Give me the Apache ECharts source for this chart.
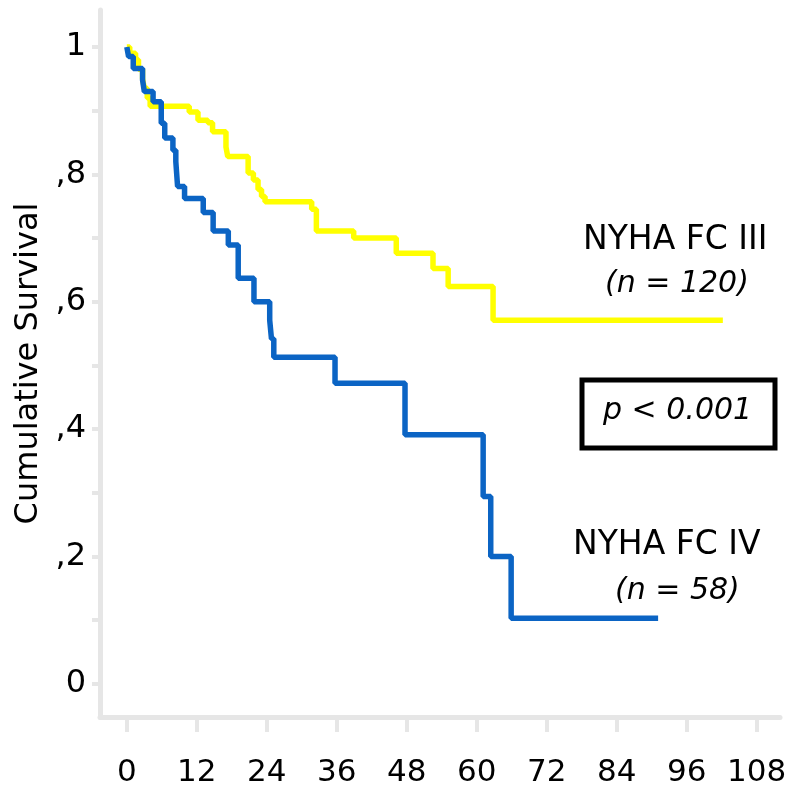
<!DOCTYPE html>
<html>
<head>
<meta charset="utf-8">
<script src="https://cdn.jsdelivr.net/npm/echarts@6/dist/echarts.min.js"></script>
<style>
    html, body { margin: 0; padding: 0; background: #fff; }
    .km { width: 805px; height: 789px; }
</style>
</head>
<body>
<div class="km"></div>
<script>
// months and cumulative survival (value after each step)
var fc3Months = [0, 0.5, 1.5, 2, 2.7, 3, 3.5, 4, 10.7, 12.2, 13.9, 14.7, 17, 17.3, 20.8, 21.7, 22.5, 23.1, 23.7, 31.7, 32.5, 38.9, 46.2, 52.5, 55.1, 62.8, 102.2];
var fc3Surv = [1, 0.99, 0.98, 0.965, 0.95, 0.935, 0.92, 0.907, 0.898, 0.885, 0.881, 0.867, 0.843, 0.828, 0.802, 0.791, 0.776, 0.765, 0.757, 0.745, 0.711, 0.70, 0.676, 0.652, 0.624, 0.571, 0.571];

var fc4Months = [0, 0.3, 1.1, 2.7, 3.0, 4.5, 5.9, 6.5, 7.9, 8.4, 8.7, 9.9, 13.1, 14.8, 17.4, 19.1, 21.8, 24.5, 24.8, 25.2, 35.7, 47.7, 61.1, 62.4, 65.9, 91.1];
var fc4Surv = [1, 0.985, 0.966, 0.948, 0.930, 0.914, 0.880, 0.857, 0.838, 0.820, 0.781, 0.762, 0.740, 0.711, 0.689, 0.637, 0.600, 0.571, 0.542, 0.513, 0.472, 0.391, 0.294, 0.200, 0.103, 0.103];

var xTicks = [0, 12, 24, 36, 48, 60, 72, 84, 96, 108];
var yTicks = [0, 0.1, 0.2, 0.3, 0.4, 0.5, 0.6, 0.7, 0.8, 0.9, 1];
var yLabels = [0, 0.2, 0.4, 0.6, 0.8, 1];

(function () {
    var kmChart = echarts.init(document.querySelector('.km'));
    var font = 'DejaVu Sans';
    var axisGray = '#e6e6e6';

    function pairs(xs, ys) {
        return xs.map(function (x, i) { return [x, ys[i]]; });
    }

    var option = {
        animation: false,
        textStyle: { fontFamily: font },
        grid: {
            left: 100,
            right: 25,
            top: 10,
            bottom: 72,
            outerBoundsMode: 'none'
        },
        xAxis: {
            type: 'value',
            min: -4.6,
            max: 112,
            splitLine: { show: false },
            axisLine: { onZero: false, lineStyle: { color: axisGray, width: 5 } },
            axisTick: { customValues: xTicks, length: 15, lineStyle: { color: axisGray, width: 4 } },
            axisLabel: {
                customValues: xTicks,
                margin: 40,
                color: '#000',
                fontSize: 31,
                fontFamily: font
            }
        },
        yAxis: {
            type: 'value',
            min: -0.052,
            max: 1.058,
            name: 'Cumulative Survival',
            nameLocation: 'middle',
            nameRotate: 90,
            nameGap: 50,
            nameTextStyle: { color: '#000', fontSize: 32, fontFamily: font },
            splitLine: { show: false },
            axisLine: { onZero: false, lineStyle: { color: axisGray, width: 5 } },
            axisTick: { customValues: yTicks, length: 8, lineStyle: { color: axisGray, width: 4 } },
            axisLabel: {
                customValues: yLabels,
                margin: 14,
                color: '#000',
                fontSize: 32,
                fontFamily: font,
                formatter: function (v) {
                    if (v === 0) return '0';
                    if (v === 1) return '1';
                    return ',' + Math.round(v * 10);
                }
            }
        },
        series: [{
                name: 'NYHA FC III',
                type: 'line',
                step: 'end',
                showSymbol: false,
                lineStyle: { color: '#ffff00', width: 5.5 },
                data: pairs(fc3Months, fc3Surv)
            },
            {
                name: 'NYHA FC IV',
                type: 'line',
                step: 'end',
                showSymbol: false,
                lineStyle: { color: '#0b64c4', width: 5.5 },
                data: pairs(fc4Months, fc4Surv)
            }
        ],
        graphic: [{
                type: 'text',
                left: 583, top: 224,
                style: { text: 'NYHA FC III', fontSize: 33, fontFamily: font, fill: '#000' }
            },
            {
                type: 'text',
                left: 605, top: 269,
                style: { text: '(n = 120)', fontSize: 30, fontStyle: 'italic', fontFamily: font, fill: '#000' }
            },
            {
                type: 'rect',
                shape: { x: 582, y: 380, width: 193, height: 68 },
                style: { fill: 'none', stroke: '#000', lineWidth: 5 }
            },
            {
                type: 'text',
                left: 603, top: 396,
                style: { text: 'p < 0.001', fontSize: 30, fontStyle: 'italic', fontFamily: font, fill: '#000' }
            },
            {
                type: 'text',
                left: 573, top: 529,
                style: { text: 'NYHA FC IV', fontSize: 33, fontFamily: font, fill: '#000' }
            },
            {
                type: 'text',
                left: 615, top: 576,
                style: { text: '(n = 58)', fontSize: 30, fontStyle: 'italic', fontFamily: font, fill: '#000' }
            }
        ]
    };
    kmChart.setOption(option);
})();
</script>
</body>
</html>
